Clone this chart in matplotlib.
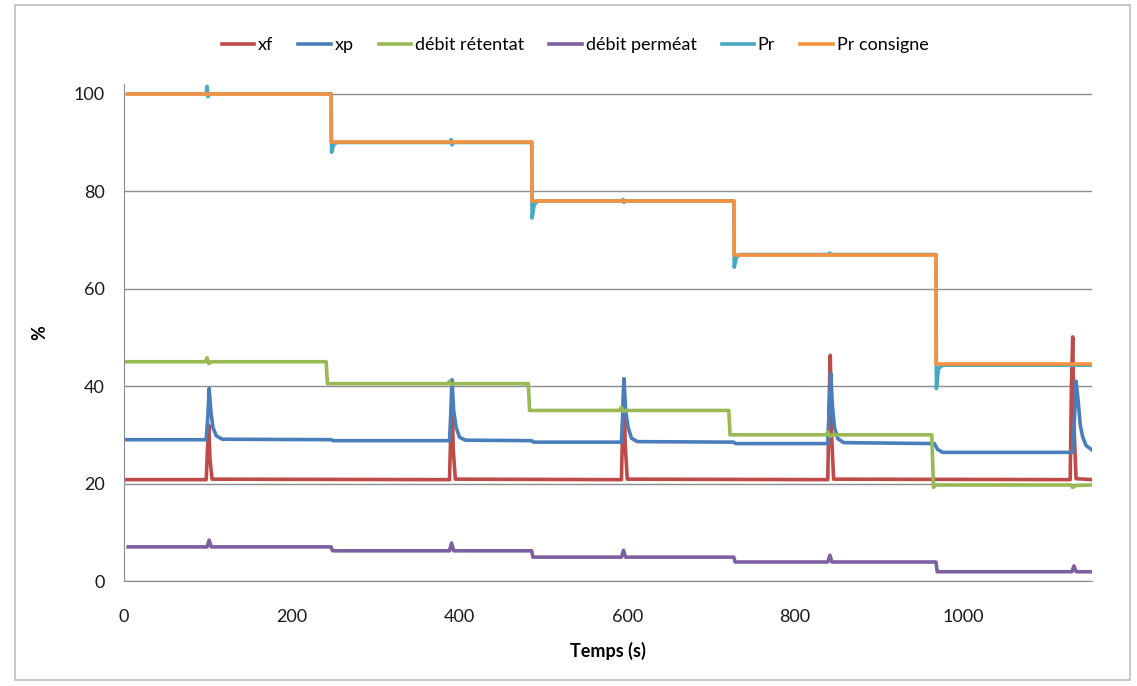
import numpy as np
import matplotlib
matplotlib.use("Agg")
import matplotlib.pyplot as plt
from matplotlib.patches import Rectangle

plt.rcParams['font.family'] = ['Lato', 'DejaVu Sans']

#-----------------------------------------------
# data (time in s, values in %)
#-----------------------------------------------
t_xf = [0, 98, 99.5, 101, 102.5, 105, 388, 389.5, 391, 392.5, 395,
        593, 594.5, 596, 597.5, 600, 839, 840.5, 842, 843.5, 846,
        1128, 1129.5, 1131, 1132.5, 1135, 1154]
xf = [20.8, 20.8, 27, 32, 25, 20.9, 20.8, 30, 38, 27, 20.9,
      20.8, 32, 41.5, 28, 20.9, 20.8, 36, 46.3, 30, 20.9,
      20.8, 40, 50.1, 32, 21.0, 20.8]

t_xp = [0, 98, 100, 101.5, 103.5, 106, 110, 117, 247, 249,
        388, 389.5, 391, 393, 396, 400, 407, 486, 488,
        593, 594.5, 596, 598, 601, 605, 612, 727, 729,
        839, 840.5, 842.5, 844.5, 847, 851, 858, 966, 970, 976,
        1131, 1133, 1135, 1137.5, 1140, 1143, 1147, 1154]
xp = [29.0, 29.0, 34, 39.5, 35, 31.5, 29.8, 29.1, 29.0, 28.8,
      28.8, 34, 41.3, 35, 31.5, 29.5, 28.9, 28.8, 28.5,
      28.5, 34, 41.5, 35, 31.5, 29.3, 28.6, 28.5, 28.2,
      28.2, 34, 42.7, 36, 31.5, 29.2, 28.4, 28.2, 27.0, 26.4,
      26.4, 33, 41.0, 37, 32, 29.5, 27.8, 26.9]

t_ret = [0, 97, 99, 101, 104, 241, 242.5, 386, 388, 390, 393, 482, 483.5,
         591, 593, 595.5, 598, 721, 722.5, 837, 839, 842, 845, 963, 965, 968,
         1129, 1131, 1135, 1154]
retentat = [45.0, 45.0, 45.8, 44.6, 45.0, 45.0, 40.5, 40.5, 41.0, 40.3, 40.5, 40.5, 35.0,
            35.0, 35.6, 34.8, 35.0, 35.0, 30.0, 30.0, 30.6, 29.7, 30.0, 30.0, 19.2, 19.7,
            19.7, 19.2, 19.6, 19.7]

t_perm = [5, 99, 101.5, 104, 247, 248.5, 388, 390.5, 393, 486, 487.5,
          593, 595.5, 598, 727, 728.5, 839, 841.5, 844, 968, 969.5,
          1130, 1132.5, 1135, 1154]
permeat = [7.0, 7.0, 8.4, 7.0, 7.0, 6.2, 6.2, 7.8, 6.2, 6.2, 4.9,
           4.9, 6.3, 4.9, 4.9, 3.9, 3.9, 5.3, 3.9, 3.9, 1.9,
           1.9, 3.1, 1.9, 1.9]

t_pr = [5, 98, 99, 100, 102, 247, 247.5, 250, 254,
        389, 390, 391, 393, 486, 486.5, 489, 493,
        594, 595, 596, 598, 727, 727.5, 730, 734,
        840, 841, 843, 968, 968.5, 971, 976, 1154]
pr = [100, 100, 101.5, 99.4, 100, 100, 88.0, 89.6, 90,
      90, 90.6, 89.5, 90, 90, 74.5, 77.2, 78,
      78, 78.3, 77.7, 78, 78, 64.4, 66.4, 67,
      67, 67.3, 67, 67, 39.5, 43.6, 44.3, 44.3]

t_cons = [5, 247, 247, 486, 486, 727, 727, 968, 968, 1154]
consigne = [100, 100, 90, 90, 78, 78, 67, 67, 44.6, 44.6]

labels = ['xf', 'xp', 'débit rétentat', 'débit perméat', 'Pr', 'Pr consigne']
colors = ['#BE4B48', '#4A7EBB', '#98B954', '#7D60A0', '#46AAC5', '#F69240']

#-----------------------------------------------
# plot
#-----------------------------------------------
fig = plt.figure(figsize=(11.37, 6.86), dpi=100)
fig.patches.append(Rectangle((15 / 1137, 1 - 680 / 686), 1115 / 1137, 675 / 686,
                             transform=fig.transFigure, fill=False,
                             edgecolor='#BFBFBF', linewidth=1.2))
ax = fig.add_axes([124 / 1137, 1 - 581 / 686, (1092 - 124) / 1137, (581 - 84) / 686])

series = [(t_xf, xf), (t_xp, xp), (t_ret, retentat), (t_perm, permeat), (t_pr, pr), (t_cons, consigne)]
for (t, v), lab, c in zip(series, labels, colors):
    ax.plot(t, v, color=c, linewidth=2.6, label=lab, solid_joinstyle='round')

ax.set_xlim(0, 1154)
ax.set_ylim(0, 102)
ax.set_xticks(np.arange(0, 1001, 200))
ax.set_yticks(np.arange(0, 101, 20))
ax.yaxis.grid(True, color='#8C8C8C', linewidth=1)
ax.set_axisbelow(True)
for s in ['top', 'right']:
    ax.spines[s].set_visible(False)
for s in ['left', 'bottom']:
    ax.spines[s].set_color('#8C8C8C')
ax.tick_params(length=0, labelsize=13, colors='#1a1a1a', pad=14)
ax.tick_params(axis='x', pad=20)
ax.set_xlabel('Temps (s)', fontsize=13, fontweight='bold', labelpad=12)
ax.set_ylabel('%', fontsize=13, fontweight='bold', labelpad=18)

fig.legend(loc='center', bbox_to_anchor=(575 / 1137, 1 - 45 / 686), ncol=6, frameon=False,
           fontsize=13, handlelength=1.8, handletextpad=0.2, columnspacing=1.4)

plt.savefig('out.png', dpi=100)
